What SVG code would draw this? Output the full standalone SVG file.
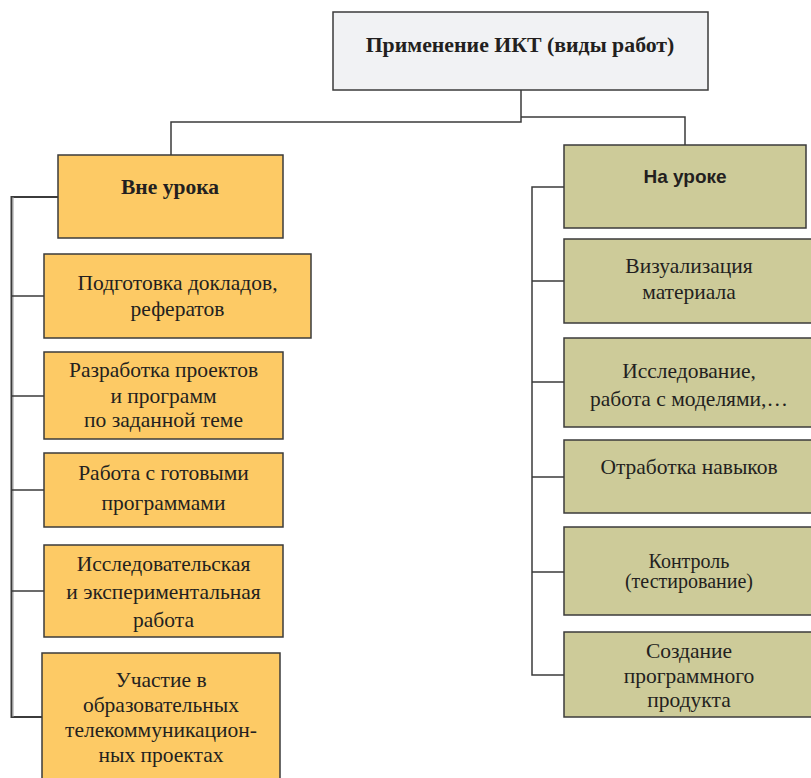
<svg xmlns="http://www.w3.org/2000/svg" width="811" height="778" viewBox="0 0 811 778">
<style>
.box{stroke:#3b3b3b;stroke-width:1.5}
.top{fill:#f1f2f4}
.org{fill:#fdca65}
.olv{fill:#cdcb99}
text{font-family:"Liberation Serif","Times New Roman",serif;font-size:21.5px;fill:#231f20;text-anchor:middle}
.b{font-weight:bold}
.sans{font-family:"Liberation Sans",Arial,sans-serif;font-weight:bold;font-size:19px}
.sm{font-size:20px}
.ln{fill:none;stroke:#3b3b3b;stroke-width:1.5}
</style>
<rect width="811" height="778" fill="#ffffff"/>
<g id="connectors">
<path class="ln" d="M521,90 V122 H171 V155"/>
<path class="ln" d="M521,117 H685 V145"/>
<path class="ln" d="M58,197 H11.5 V717 H42" style="stroke-width:2"/>
<path class="ln" d="M13,197 V717" style="stroke:#9a9a9a;stroke-width:1"/>
<path class="ln" d="M11.5,296 H44 M11.5,396 H44 M11.5,490 H44 M11.5,591 H44"/>
<path class="ln" d="M564,187 H532 V675 H564"/>
<path class="ln" d="M532,281 H564 M532,382 H564 M532,477 H564 M532,572 H564"/>
</g>
<g id="root">
<rect class="box top" x="333" y="12" width="375" height="78"/>
<text class="b" x="520" y="52" style="font-size:21.8px">Применение ИКТ (виды работ)</text>
</g>
<g id="vne">
<rect class="box org" x="58" y="155" width="225" height="83"/>
<text class="b" x="170" y="194">Вне урока</text>
</g>
<g id="podg">
<rect class="box org" x="44" y="254" width="267" height="84"/>
<text x="177.5" y="290">Подготовка докладов,</text>
<text x="177.5" y="316">рефератов</text>
</g>
<g id="razr">
<rect class="box org" x="44" y="352" width="239" height="87"/>
<text x="163.5" y="377">Разработка проектов</text>
<text x="163.5" y="403">и программ</text>
<text x="163.5" y="427">по заданной теме</text>
</g>
<g id="rabota">
<rect class="box org" x="44" y="453" width="239" height="74"/>
<text x="163.5" y="480">Работа с готовыми</text>
<text x="163.5" y="510">программами</text>
</g>
<g id="issl-exp">
<rect class="box org" x="44" y="545" width="239" height="92"/>
<text x="163.5" y="571">Исследовательская</text>
<text x="163.5" y="599">и экспериментальная</text>
<text x="163.5" y="627">работа</text>
</g>
<g id="uchastie">
<rect class="box org" x="42" y="653" width="238" height="140"/>
<text x="161" y="687">Участие в</text>
<text x="161" y="712">образовательных</text>
<text x="161" y="737">телекоммуникацион-</text>
<text x="161" y="762">ных проектах</text>
</g>
<g id="na-uroke">
<rect class="box olv" x="564" y="145" width="242" height="83"/>
<text class="sans" x="685" y="183">На уроке</text>
</g>
<g id="vizual">
<rect class="box olv" x="564" y="239" width="252" height="84"/>
<text x="689" y="273">Визуализация</text>
<text x="689" y="299">материала</text>
</g>
<g id="issled">
<rect class="box olv" x="564" y="338" width="252" height="89"/>
<text x="689" y="378">Исследование,</text>
<text x="689" y="406">работа с моделями,…</text>
</g>
<g id="otrab">
<rect class="box olv" x="564" y="440" width="252" height="73"/>
<text x="689" y="474">Отработка навыков</text>
</g>
<g id="kontrol">
<rect class="box olv" x="564" y="527" width="252" height="88"/>
<text class="sm" x="689" y="568">Контроль</text>
<text class="sm" x="689" y="588">(тестирование)</text>
</g>
<g id="sozdanie">
<rect class="box olv" x="564" y="632" width="252" height="85"/>
<text x="689" y="658">Создание</text>
<text x="689" y="683">программного</text>
<text x="689" y="707">продукта</text>
</g>
</svg>
